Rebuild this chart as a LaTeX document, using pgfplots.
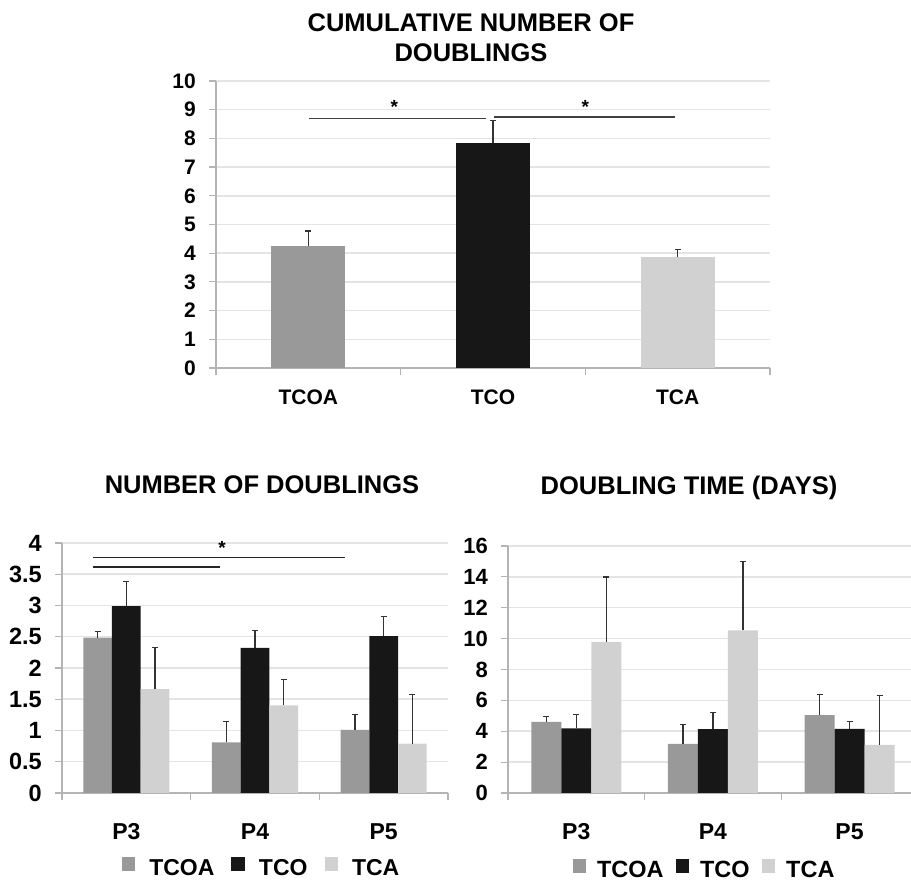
\documentclass[border=0pt]{standalone}
\usepackage{pgfplots}
\usepackage{pgfplotstable}
\pgfplotsset{compat=1.18}
\usepackage{fontspec}
\setmainfont{Liberation Sans}

\definecolor{cTCOA}{HTML}{999999}
\definecolor{cTCO}{HTML}{171717}
\definecolor{cTCA}{HTML}{D0D1D0}
\definecolor{gridc}{HTML}{E4E4E4}
\definecolor{axc}{HTML}{B4B4B4}
\definecolor{errc}{HTML}{333333}

\newcommand{\tickfont}{\bfseries\fontsize{21}{24}\selectfont}
\newcommand{\bigtickfont}{\bfseries\fontsize{23.5}{26}\selectfont}
\newcommand{\midtickfont}{\bfseries\fontsize{22}{26}\selectfont}
\newcommand{\catfont}{\bfseries\fontsize{23}{26}\selectfont}
\newcommand{\legfont}{\bfseries\fontsize{23}{24}\selectfont}
\newcommand{\legfontb}{\bfseries\fontsize{23.5}{24}\selectfont}
\newcommand{\titlefont}{\bfseries\fontsize{25.5}{30}\selectfont}

\pgfplotstableread{
x y e
0.5 2.485 0.105
1.5 0.81 0.33
2.5 1.01 0.24
}\ndTCOA
\pgfplotstableread{
x y e
0.5 2.99 0.39
1.5 2.32 0.28
2.5 2.51 0.31
}\ndTCO
\pgfplotstableread{
x y e
0.5 1.66 0.67
1.5 1.40 0.41
2.5 0.79 0.79
}\ndTCA

\pgfplotstableread{
x y e
0.5 4.61 0.32
1.5 3.18 1.25
2.5 5.04 1.34
}\dtTCOA
\pgfplotstableread{
x y e
0.5 4.19 0.87
1.5 4.13 1.08
2.5 4.15 0.50
}\dtTCO
\pgfplotstableread{
x y e
0.5 9.77 4.22
1.5 10.53 4.45
2.5 3.11 3.20
}\dtTCA

\pgfplotsset{
  mystyle/.style={
    scale only axis,
    axis x line*=bottom, axis y line*=left,
    axis line style={axc, line width=1.2pt},
    ymajorgrids, grid style={gridc, line width=1.5pt},
    tick align=outside,
    major tick length=7pt,
    ytick style={axc, line width=1.2pt},
    xtick style={draw=none},
    /pgf/number format/assume math mode=true,
    tick label style={font=\tickfont},
    yticklabel style={inner sep=0pt, anchor=east, xshift=-13pt},
    xticklabel style={inner sep=0pt, anchor=north},
    xmin=0, xmax=3,
    xtick={0.5,1.5,2.5},
    extra x ticks={0,1,2,3},
    extra x tick labels={},
    extra x tick style={xtick style={draw=axc, line width=1.2pt}, grid=none},
    ybar=0pt,
    clip=false,
    error bars/y dir=plus, error bars/y explicit,
    error bars/error mark options={rotate=90, mark size=3pt, line width=1.2pt, errc},
    error bars/error bar style={line width=1.2pt, errc},
    legend image code/.code={\fill[##1] (0pt,-3pt) rectangle (13.5pt,10.5pt);},
  }
}

\begin{document}
\begin{tikzpicture}
\useasboundingbox (0,0) rectangle (911pt,882pt);

% ---------------- top chart ----------------
\begin{axis}[mystyle,
  at={(216pt,514pt)}, anchor=south west,
  width=554pt, height=287pt,
  ymin=0, ymax=10, ytick={0,1,...,10},
  xticklabels={TCOA,TCO,TCA},
  xticklabel style={yshift=-15pt},
  bar width=74pt,
]
\addplot[fill=cTCOA, draw=none, bar shift=0pt] coordinates {(0.5,4.24) +- (0,0.53)};
\addplot[fill=cTCO, draw=none, bar shift=0pt] coordinates {(1.5,7.84) +- (0,0.79)};
\addplot[fill=cTCA, draw=none, bar shift=0pt] coordinates {(2.5,3.86) +- (0,0.27)};
\draw[line width=1.3pt, black!75] (axis cs:0.503,8.70) -- (axis cs:1.461,8.70);
\draw[line width=1.3pt, black!75] (axis cs:1.506,8.74) -- (axis cs:2.483,8.74);
\node[font=\bfseries\fontsize{19}{19}\selectfont, anchor=base, inner sep=0pt] at (axis cs:0.965,8.88) {*};
\node[font=\bfseries\fontsize{19}{19}\selectfont, anchor=base, inner sep=0pt] at (axis cs:2.0,8.88) {*};
\end{axis}

% ---------------- bottom left ----------------
\begin{axis}[mystyle,
  at={(62pt,89pt)}, anchor=south west,
  width=386pt, height=250pt,
  ymin=0, ymax=4, ytick={0,0.5,...,4},
  yticklabel style={font=\bigtickfont},
  xticklabels={P3,P4,P5},
  xticklabel style={yshift=-23pt, font=\catfont},
  bar width=28.7pt,
  legend columns=3,
  legend style={at={(0.517,-0.30)}, anchor=center, draw=none, font=\legfont,
    /tikz/every odd column/.append style={column sep=12pt},
    /tikz/every even column/.append style={column sep=15pt}},
]
\addplot[fill=cTCOA, draw=none] table[x=x, y=y, y error=e] {\ndTCOA};
\addplot[fill=cTCO, draw=none] table[x=x, y=y, y error=e] {\ndTCO};
\addplot[fill=cTCA, draw=none] table[x=x, y=y, y error=e] {\ndTCA};
\legend{TCOA,TCO,TCA}
\draw[line width=1.3pt, black!85] (axis cs:0.24,3.765) -- (axis cs:2.20,3.765);
\draw[line width=1.3pt, black!85] (axis cs:0.24,3.616) -- (axis cs:1.227,3.616);
\node[font=\bfseries\fontsize{19}{19}\selectfont, anchor=base, inner sep=0pt] at (axis cs:1.245,3.82) {*};
\end{axis}

% ---------------- bottom right ----------------
\begin{axis}[mystyle,
  at={(508pt,89pt)}, anchor=south west,
  width=403pt, height=247pt,
  xmax=2.95,
  extra x ticks={0,1,2},
  ymin=0, ymax=16, ytick={0,2,...,16},
  yticklabel style={font=\midtickfont},
  xticklabels={P3,P4,P5},
  xticklabel style={yshift=-23pt, font=\catfont},
  bar width=30pt,
  legend columns=3,
  legend style={at={(0.4876,-0.31)}, anchor=center, draw=none, font=\legfontb,
    /tikz/every odd column/.append style={column sep=9pt},
    /tikz/every even column/.append style={column sep=10pt}},
]
\addplot[fill=cTCOA, draw=none] table[x=x, y=y, y error=e] {\dtTCOA};
\addplot[fill=cTCO, draw=none] table[x=x, y=y, y error=e] {\dtTCO};
\addplot[fill=cTCA, draw=none] table[x=x, y=y, y error=e] {\dtTCA};
\legend{TCOA,TCO,TCA}
\end{axis}

% ---------------- titles ----------------
\node[font=\titlefont, align=center] at (471pt,844pt) {CUMULATIVE NUMBER OF\\DOUBLINGS};
\node[font=\titlefont] at (262pt,397pt) {NUMBER OF DOUBLINGS};
\node[font=\titlefont] at (689pt,394pt) {DOUBLING TIME (DAYS)};
\end{tikzpicture}
\end{document}
